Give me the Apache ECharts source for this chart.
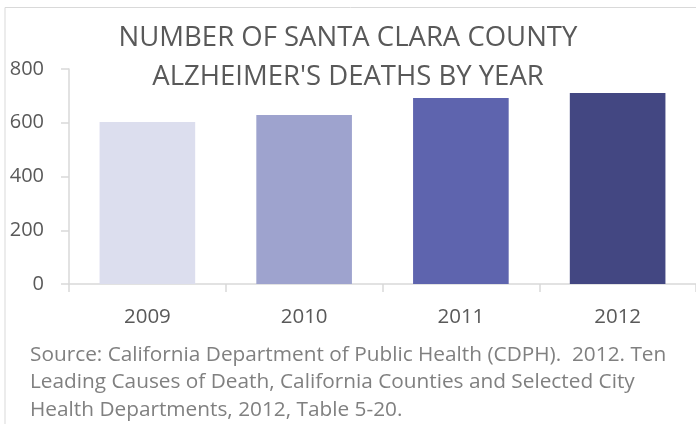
<!DOCTYPE html>
<html>
<head>
<meta charset="utf-8">
<script src="https://cdn.jsdelivr.net/npm/echarts@6/dist/echarts.min.js"></script>
<style>
  html, body { margin: 0; padding: 0; background: #fff; }
  #chart { width: 696px; height: 424px; }
</style>
</head>
<body>
<div id="chart"></div>
<script>
const years = ['2009', '2010', '2011', '2012'];
const deaths = [603, 629, 692, 711];
const barColors = ['#dcdeee', '#9ea3ce', '#5e64ae', '#434782'];
const titleLines = ['NUMBER OF SANTA CLARA COUNTY', "ALZHEIMER'S DEATHS BY YEAR"];
const sourceLines = [
    'Source: California Department of Public Health (CDPH).  2012. Ten',
    'Leading Causes of Death, California Counties and Selected City',
    'Health Departments, 2012, Table 5-20.',
];

const FONT = '"Open Sans", sans-serif';
const chart = echarts.init(document.getElementById('chart'));

chart.setOption({
    animation: false,
    textStyle: { fontFamily: FONT },
    title: {
        text: titleLines.join('\n'),
        left: 'center',
        top: 14,
        textStyle: { fontSize: 27.5, fontWeight: 'normal', color: '#595959', lineHeight: 38.5, fontFamily: FONT },
    },
    graphic: [
        {
            type: 'polyline',
            shape: { points: [[5, 424], [5, 7.5], [696, 7.5]] },
            style: { stroke: '#d9d9d9', lineWidth: 1, fill: null },
            silent: true,
        },
        {
            type: 'text',
            left: 30,
            top: 341,
            style: {
                text: sourceLines.join('\n'),
                fontSize: 20.8,
                lineHeight: 27.5,
                fill: '#808080',
                fontFamily: FONT,
            },
        },
    ],
    grid: { left: 69, right: -1, top: 69, bottom: 140, containLabel: false },
    xAxis: {
        type: 'category',
        data: years,
        axisLine: { lineStyle: { color: '#d9d9d9', width: 1.5 } },
        axisTick: { show: true, length: 8, lineStyle: { color: '#d9d9d9', width: 1.5 } },
        axisLabel: { fontSize: 20.5, color: '#595959', margin: 23 },
    },
    yAxis: {
        type: 'value',
        min: 0,
        max: 800,
        interval: 200,
        splitLine: { show: false },
        axisLine: { show: true, lineStyle: { color: '#d9d9d9', width: 1.5 } },
        axisTick: { show: true, length: 8, lineStyle: { color: '#d9d9d9', width: 1.5 } },
        axisLabel: { fontSize: 20, color: '#595959', margin: 25 },
    },
    series: [{
        type: 'bar',
        data: deaths.map((v, i) => ({ value: v, itemStyle: { color: barColors[i] } })),
        barCategoryGap: '39%',
    }],
});
</script>
</body>
</html>
